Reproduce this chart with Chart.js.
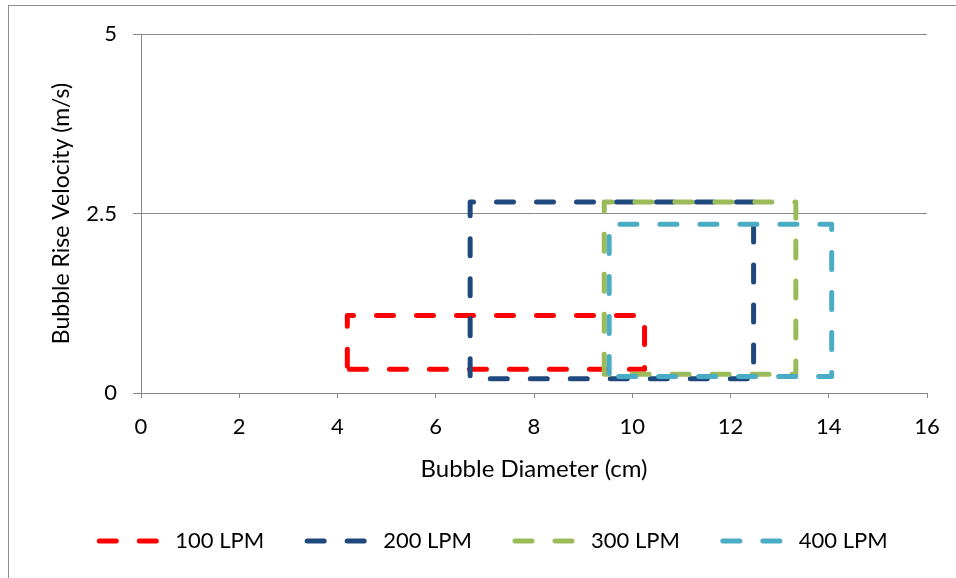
<!DOCTYPE html>
<html>
<head>
<meta charset="utf-8">
<script src="https://cdn.jsdelivr.net/npm/chart.js@4"></script>
<style>
  body { margin: 0; background: #fff; }
  .wrap { position: relative; width: 956px; height: 578px; overflow: hidden; }
  .frame { position: absolute; left: 8px; top: 5px; width: 1000px; height: 1000px; border: 1px solid #8c8c8c; }
  canvas { position: absolute; left: 0; top: 0; }
</style>
</head>
<body>
<div class="wrap">
  <div class="frame"></div>
  <canvas id="bubbles" width="956" height="578"></canvas>
</div>
<script>
// flow rates and the corner points of each diameter / velocity box
const labels = ['100 LPM', '200 LPM', '300 LPM', '400 LPM'];
const diameter100 = [4.2, 4.2, 10.25, 10.25, 4.2];
const velocity100 = [0.33, 1.08, 1.08, 0.33, 0.33];
const diameter200 = [6.7, 6.7, 12.47, 12.47, 6.7];
const velocity200 = [0.2, 2.66, 2.66, 0.2, 0.2];
const diameter300 = [9.43, 9.43, 13.33, 13.33, 9.43];
const velocity300 = [0.26, 2.66, 2.66, 0.26, 0.26];
const diameter400 = [9.53, 9.53, 14.06, 14.06, 9.53];
const velocity400 = [0.23, 2.35, 2.35, 0.23, 0.23];
const colors = ['#ff0000', '#1f497d', '#9bbb59', '#4bacc6'];

const LEGEND_PAD = 40;

function box(xs, ys) {
    return xs.map((x, i) => ({ x, y: ys[i] }));
}

const series = [
    box(diameter100, velocity100),
    box(diameter200, velocity200),
    box(diameter300, velocity300),
    box(diameter400, velocity400)
];

Chart.defaults.font.family = 'Lato';
Chart.defaults.font.size = 22;
Chart.defaults.color = '#000';

const ctx = document.getElementById('bubbles').getContext('2d');
const chart = new Chart(ctx, {
    type: 'scatter',
    data: {
        datasets: series.map((pts, i) => ({
            label: labels[i],
            data: pts,
            showLine: true,
            borderColor: colors[i],
            backgroundColor: colors[i],
            borderWidth: 5,
            borderDash: [17, 23],
            borderDashOffset: -3,
            borderCapStyle: 'round',
            borderJoinStyle: 'round',
            pointRadius: 0,
            tension: 0,
            order: series.length - i
        }))
    },
    options: {
        responsive: false,
        animation: false,
        layout: {
            padding: { left: 28, right: 0, top: 34, bottom: 16 }
        },
        plugins: {
            tooltip: { enabled: false },
            legend: {
                position: 'bottom',
                labels: {
                    usePointStyle: true,
                    pointStyle: 'line',
                    pointStyleWidth: 68,
                    padding: LEGEND_PAD,
                    color: '#000',
                    // point style labels lose the line dash, so copy it from the dataset
                    generateLabels(chart) {
                        const items = Chart.defaults.plugins.legend.labels.generateLabels(chart);
                        return items.map(item => {
                            const ds = chart.data.datasets[item.datasetIndex];
                            return Object.assign(item, {
                                lineDash: ds.borderDash,
                                lineDashOffset: ds.borderDashOffset,
                                lineCap: 'round',
                                lineWidth: ds.borderWidth,
                                strokeStyle: ds.borderColor
                            });
                        });
                    },
                    sort: (a, b) => a.datasetIndex - b.datasetIndex
                }
            }
        },
        scales: {
            x: {
                type: 'linear',
                min: 0,
                max: 16,
                ticks: { stepSize: 2, padding: 16 },
                grid: {
                    drawOnChartArea: false,
                    tickLength: 5,
                    color: '#898989'
                },
                border: { color: '#898989' },
                title: {
                    display: true,
                    text: 'Bubble Diameter (cm)',
                    font: { size: 24 },
                    padding: { top: 0, bottom: 6 }
                },
                afterFit(scale) {
                    scale.height = 137 - LEGEND_PAD;
                    scale.paddingRight = 29;
                }
            },
            y: {
                min: 0,
                max: 5,
                ticks: { stepSize: 2.5, padding: 16 },
                grid: {
                    tickLength: 8,
                    color: '#898989'
                },
                border: { color: '#898989' },
                title: {
                    display: true,
                    text: 'Bubble Rise Velocity (m/s)',
                    font: { size: 23 },
                    padding: { top: 20, bottom: 0 }
                },
                afterFit(scale) {
                    scale.width = 113;
                }
            }
        }
    }
});
</script>
</body>
</html>
